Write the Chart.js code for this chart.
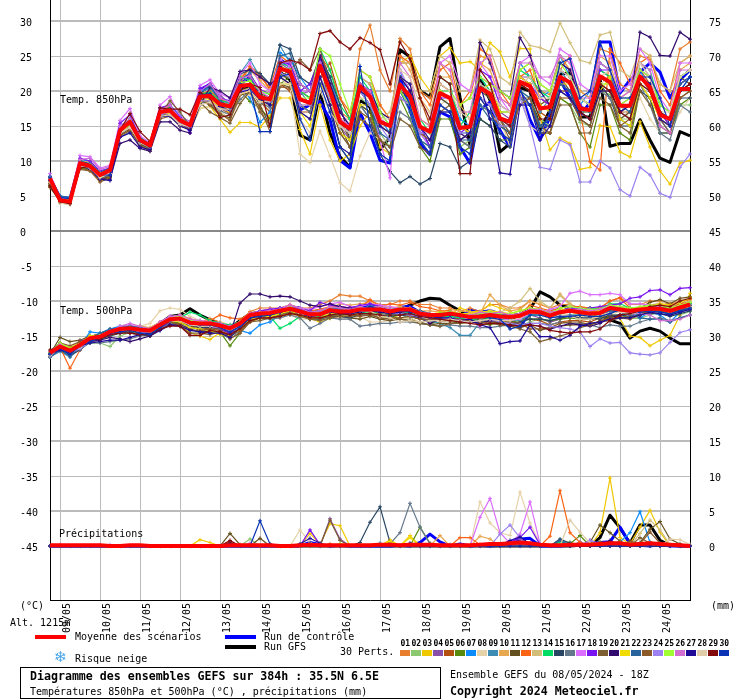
<!DOCTYPE html>
<html>
<head>
<meta charset="utf-8">
<script src="https://cdn.jsdelivr.net/npm/chart.js@4/dist/chart.umd.min.js"></script>
<style>
  html, body { margin: 0; padding: 0; background: #fff; }
  #wrap { position: relative; width: 740px; height: 700px; }
</style>
</head>
<body>
<div id="wrap"><canvas id="myChart" width="740" height="700"></canvas></div>
<script>
const days = ['09/05','10/05','11/05','12/05','13/05','14/05','15/05','16/05','17/05','18/05','19/05','20/05','21/05','22/05','23/05','24/05']
const leftTicks = [30,25,20,15,10,5,0,-5,-10,-15,-20,-25,-30,-35,-40,-45]
const rightTicks = [75,70,65,60,55,50,45,40,35,30,25,20,15,10,5,0]

const perts = ['01','02','03','04','05','06','07','08','09','10','11','12','13','14','15','16','17','18','19','20','21','22','23','24','25','26','27','28','29','30']
const pertColors = ['#e87f2e','#8cc870','#f0c800','#8a4fa8','#b4500f','#588a0e','#0a8cff','#e6d2a8','#3c8cb4','#e8a850','#64501e','#fa6414','#d2be78','#00dc64','#284664','#64788c','#dc6eff','#7814f0','#7d5f32','#320a6e','#f0dc00','#28649b','#8c5a28','#9b82f0','#a0ff32','#d26ed2','#1e0a96','#e0cca8','#820a0a','#0a32b4']

// 850hPa, every 6h
const meanT850 = [7.5,4.4,4.2,9.7,9.3, 8,8.7,14.4,15.6,13, 12.2,17,17.2,15.8,15.1, 19.2,19.3,18.1,17.8,20.7, 20.9,19.1,18.8,23.2,22.8, 18.8,18.3,23.6,20,15.6, 14.6,20.7,19.2,15.6,15, 20.9,19.2,14.9,14.2,19.7, 19,14.7,14.9,20.4,19.6, 16.1,15.6,21.3,20.7,17.5, 17.7,22,21.2,17.5,17.3, 22.1,21.3,17.9,17.9,22.1, 20.5,16.6,16,20.3,20.3]
const controlT850 = [7.6,4.8,4.6,9.9,9.5, 7.8,8.5,14.6,15.8,12.8, 12,17.2,17.6,15.6,14.8, 20,21,18.5,18.2,21,22,19,18.5, 24.5,23.5, 17.3,18,18.5,15.9,10.1, 9,16.9,14,10.1,9.7, 22,17.3,12.5,10.9,17, 16.3,12,9.7,17.3,18.4, 14.4,12,20.1,15.9,13, 16.3,21.6,19,16.6,18.3, 27,27,19.7,21.6,22.7, 24,22.7,19,21.6,23]
const gfsT850 = [7.4,4.5,4.3,9.6,9.1, 7.6,8.2,14.2,15.8,13.2, 12,17.1,17,15.4,14.9, 19.4,19.6,17.8,17.6,20.4, 20.6,19.4,19,22.7,21.6, 13.7,13,19.9,14,10.6, 9.1,18.7,17.7,11.6,13.4, 25.9,24.9,20.1,19.1,26.3, 27.5,19.1,12.3,21.8,18.7, 11.3,12.5,20.5,20,14.4, 17.3,22.4,22.6,16.3,16.3, 21.8,12.1,12.5,12.5,15.9, 13,10.4,9.8,14.2,13.6]
const t850P01 = [7,4,3.8,9.5,9, 7.5,8.5,14,15.5,13, 12.5,17,17,15.5,15, 19.5,20,18,18,21, 23.5,22.5,20,24,22, 19,18,24,22,17, 16,26,29.4,23,20, 27.5,26,20,19,24, 22,18,19,25,24.5, 20,19,24,22,20, 19.5,25,23,20,19, 26,25.5,21,20,25, 24.5,21,20,26,27]
const t850P02 = [7.5,4.5,4.2,9.5,9.5, 8.2,9,14.5,15,12.8, 12.2,17,17.5,16,15.5, 19,18.5,18,17.5,21, 21,19.5,19,22.5,22, 20,19,22,19,14, 12,19,18,14,12, 20,18,13,12,18, 17,12,13,18,17, 15,15,20,19,16, 15,19,18,15.5,15, 20,19.5,16,16,21, 19,14,14,18,18]
const t850P03 = [7.6,4.6,4.4,9,8.8, 7.2,7.6,14,15,12.5, 11.8,16.5,16.5,15,14.5, 17.5,17.8,16,14.1,15.5, 15.5,14.8,16.5,19,19, 14.5,11,18,13,10, 11,15,17,12,11, 24,25,22,20,25, 26.2,24,24.2,23,26.9, 25.6,22,26.1,26,16.3, 11.6,13.3,12.5,8.8,9.1, 15.1,14.9,11.3,10.6,15.6, 12,8.6,6.7,9.7,10.1]
const t850P04 = [7.2,4.2,4,9.8,9.2, 8,8.6,14.8,16,13, 12,17.4,17.5,16,14.8, 19.5,21,19.5,18,21, 22,18.5,18,24,23, 19.5,20,24,21,15, 13,21,20,15,14, 21,19,14,13,21, 20,15,15,22,21, 17,16,22,22,19, 18,24,23,19,18, 23,22,18,19,24, 22,18,17,22,23]
const t850P05 = [7,4.4,4.2,9.4,9, 7.7,8.3,14,15,12.6, 12,16.6,16.8,15.5,15, 18.5,18.5,17.5,16.8,19.5, 20.3,18.5,17,21,20, 17,17,22,24,19, 16,20,18,16,15, 24,24,19,15,21, 20,15,14,19,17, 15,14,22,21,17, 16,20,20,18,17, 24,23,17,17,23, 21,17,15,21,22]
const t850P06 = [6.5,4.2,4,9,8.6, 7.8,8,13.8,14.8,12.4, 11.6,16.5,17,16.4,15.6, 19,18,17,16,20, 18.5,17.5,16,21,22, 21,20,24,18,12, 10,18,17,13,12, 19,16,12,10,16, 16,11,12,16,15, 13,13,19,18,14, 14,19,18,14,12, 18,18,14,13,20, 19,14,14,18,19]
const t850P07 = [7.8,5,4.8,10.2,10, 8.4,9,15,16,13.4, 12.4,17.5,18,16.5,15.5, 20,20.5,19,18,20.5, 19,15.5,17,25.5,24.5, 22,20,25,22,17, 15,22,21,16,14, 23,18,15,12,20, 20,16,15,22,20, 16,14,24,22,19, 20,25,22,18,20, 24,23,17,18,23, 20,16,14,20,22]
const t850P08 = [6.8,4,3.8,9.4,9, 7.5,8,13.8,14.6,12.2, 11.6,16.4,16.6,15,14.6, 17.5,17.8,17,16,18.8, 19.5,17,19,22,20.5, 11,9.8,14.3,10.7,6.9, 5.7,10.7,14,13,13, 21,19,14,13,18, 19,15,14,18,16, 16,12,20,15,14, 15,19,19,17,17, 21,22,18,16,19, 16,14,14,17,19]
const t850P09 = [7.7,4.8,4.4,10,9.4, 8,8.8,14.8,16,13.2, 12.4,17.4,17.8,16,15.2, 19.8,20.4,18.6,18.4,22.5, 24.5,22,21,26.5,24, 20,18,25,22,16, 14,20,18,13,12, 20,18,14,12,19, 18,14,14,21,20, 16,15,21,20,17, 19,23,21,17,16, 21,20,17,16,21, 20,16,15,21,22]
const t850P10 = [7.4,4.4,4,10,9.8, 8.2,9,14.8,15.4,13, 12.4,17,17.4,15.8,15, 19,19.8,18.6,18,22, 23,21.5,20,23,22.5, 18,18,23,21,16, 15,22,21,18,16, 25,23,19,17,22, 22,18,16,24,23, 19,18,23,24,21, 20,25,23,20,19, 25,24,19,20,23, 22,17,16,23,24]
const t850P11 = [6.6,4.3,4,9.2,8.8, 7.4,7.8,13.6,14.6,12.4, 11.8,16.4,16.6,15.5,15, 18.6,18,16.5,16.2,20, 20.5,18,15,21,20.5, 18,17,23,20,15, 12,18,17,15,14, 20,19,15,12,19, 18,13,12,20,19, 15,14,21,20,18, 19,22,20,17,16, 22,21,16,17,22, 21,16,15,22,21]
const t850P12 = [7.5,4.6,4.2,9.8,9.4, 8.2,8.8,14.6,15.4,13.2, 12.6,17.4,17.8,16.2,15.4, 19.6,20,18.8,18.4,21.5, 23.5,22,20.5,25,24, 20,19,25,23,19, 17,23,22,18,16, 25,24,20,18,23, 24,18,20,26,25, 20,18,22,23,19, 18,23,25,17,9.9, 8.7,26,24,21,24, 25,20,18,24,25]
const t850P13 = [7.2,4.4,4.4,9.4,9, 7.8,8.4,14.2,15,12.8, 12.4,16.8,17,15.6,14.8, 18.8,19,17.8,17.4,20, 20.4,18.6,17.8,22,22, 17,16,21,19,16, 16,20,19,16,17, 24,24,20,20,25, 24,20,20,27.3,26, 22,21,28.4,26.5,26.2, 25.6,29.7,26.9,24.4,24, 28,28.4,23,22,26, 25,21,20,24,25]
const t850P14 = [7.6,4.6,4.4,10,9.4, 8,8.8,14.6,16,13.4, 12.4,17.2,17.6,16,15.6, 19.6,19.8,18.6,18.4,22, 21.5,20,19.5,24,23.5, 20,19,26,23,18, 16,22,20,17,15, 23,20,16,14,22, 21,15,17,22,20, 17,17,23,22,20, 19,23,22,19,18, 23,22,19,19,24, 23,18,17,22,23]
const t850P15 = [7.3,4.5,4.2,9.6,9.2, 7.6,8,14,15.2,13, 12.2,16.8,17,15.8,14.8, 19,19.6,17.6,18,22.4, 23,22.5,21,26.6,26, 22,21,25,22,18, 13,18,16,11,8.5, 6.9,7.8,6.7,7.5,12.5, 12,9,10,16,15, 13,12,19,18,15, 15,21,20,16,15, 21,19,15,15,20, 19,14,14,19,19]
const t850P16 = [7.2,4.2,4,9.2,8.8, 7.6,8.2,13.4,14.2,12.6, 11.8,16.2,16.8,15.2,14.6, 18.4,18.2,17.2,16.6,18.8, 20,18.4,17.6,22,21, 18,17,24,21,14, 12,18,16,13,11, 17,16,13,11,17, 17,13,12,18,17, 14,13,19,18,15, 15,20,19,17,16, 20,19,16,15,21, 18,14,13,18,17]
const t850P17 = [8.2,4.8,4.6,10.8,10.6, 9,9.4,15.8,17.5,13.6, 12.6,18,19.2,16.4,15.6, 20.8,21.6,19.6,19,22.4, 24,21,20,24.5,23.5, 20,20,25,21,16, 15,21,20,13,7.6, 23,20,14,12,24, 25,21,20,24,22, 19,17,24,25,22, 21,26,25,21,20, 25,25,20,21,26, 24,19,17,24,24]
const t850P18 = [7.8,4.7,4.3,10.4,10, 8.6,9,15.4,16.6,13.2, 12.4,17.6,18,16.2,14, 20.4,21,19,18.6,21.6, 22.4,20.2,19.6,24,24, 20,21,24.5,21,17, 15,21,20,16,15, 22,20,15,12,19, 19,14,15,23,22, 18,17,22,21,19, 18,23,22,18,17, 23,23,18,18,23, 22,17,15,21,22]
const t850P19 = [6.8,4.3,3.9,9.2,8.8, 7.2,7.8,13.8,14.4,12.2, 11.4,16.6,18.6,17,15, 18.4,17,16.2,15.4,18.2, 20,17,15,22,23, 24.5,23,26,21,16, 13,16,15,13,11, 16,15,12,11,17, 18,13,14,21,19, 16,13,19,19,15, 14,18,18,14,14, 19,18,15,14,20, 18,15,14,19,20]
const t850P20 = [7.2,4.2,3.9,9.4,8.8, 7.4,7.4,12.5,13,11.8, 11.4,15.6,15.6,14.4,14, 18,20.5,20,19,22.8, 23,22,21,22,21, 21,20,25,21,17, 15,21,20,17,16, 22,20,15,14,20, 19,14,13,26.9,24, 20,19,27.6,25.1,20, 18,24,23,19,18, 22,21,17,18,28.4, 27.7,25.1,25,28.4,27.4]
const t850P21 = [7.4,4.6,4.2,9.4,9.2, 7.8,8.6,14,15.2,13, 12,16.8,16.8,15.4,14.8, 18.4,18.8,17.6,17,19.6, 20,18.6,18.2,21,21, 17,15,21,19,14, 13,18,18,15,14, 22,21,16,15,20, 19,15,14,20,21, 17,17,22,21,18, 17,21,21,17,17, 20,22,16,15,21, 19,16,15,20,21]
const t850P22 = [7.8,5,4.8,10,9.6, 8.4,9,14.6,15.6,13.2, 12.4,17.2,17.4,16,15.2, 19.6,20.8,18.6,17.8,21.6, 22.6,19.6,18,25,25.4, 21,20,24,20,16, 14,20,18,14,13, 20,17,13,12,18, 17,13,13,18,16, 15,14,20,19,15, 16,21,20,17,17, 22,21,18,17,22, 21,17,16,21,22]
const t850P23 = [6.2,4.4,3.9,8.8,8.6, 7,7.6,13.6,14.4,12.2, 11.6,16,16.4,15,14.6, 18.8,18,16.8,15.8,19.4, 19.8,17.6,14.2,20.6,20.4, 19,18,22,18,14, 12,17,16,13,12, 19,18,14,13,18, 17,13,14,19,18, 16,14,18,19,14, 14,19,19,16,15, 20,20,15,16,22, 20,16,14,19,20]
const t850P24 = [7.4,4.6,4.4,9.6,9.2, 8,8.6,14,14.8,12.8, 12.2,16.6,17,15.4,14.8, 18.6,18.6,17.4,17.2,20, 20.2,19,18.4,22.6,22, 18,18,22,19,15, 14,20,18,15,13, 19,18,14,14,18, 17,14,14,19,18, 15,15,19,15,9.1, 8.8,13,12.3,7,7, 10,9,5.9,5,9.1, 8,5.4,4.8,9.1,11]
const t850P25 = [7.6,4.6,4.4,9.8,9.4, 8.2,8.8,14.4,15.8,13, 12.2,17.2,17.2,15.8,15, 19.2,19.4,18.2,18,21.2, 21.4,20,19.6,23.5,23, 19,19,26,25,21, 17,23,22,17,15, 20,18,15,14,20, 20,18,19,22,21, 20,19,23,24,21, 20,24,22,19,18, 21,21,18,19,23, 22,18,17,22,23]
const t850P26 = [7.6,4.4,4,10.2,10.4, 8.8,9.2,15,16,13, 12.2,17.2,18,16,15.4, 20,21,19,18.4,21.8, 22.2,20,19,24,24.2, 21,20,24,20,16, 15,21,20,16,15, 24,22,16,15,24, 23,17,17,24,25, 19,18,24,24,22, 22,25,24,19,19, 24,23,19,20,24, 23,15,14,23,23]
const t850P27 = [7.2,4.6,4.2,9.6,9, 7.4,7.2,13.4,14,12, 11.6,16.4,16.4,15,14.4, 19,19.4,17.8,17.2,19.8, 20.2,18.8,18,23.5,22.4, 17,16,22,18,12, 11,20,19,15,14, 22,21,15,13,17, 17,13,14,21,16, 8.3,8.1,18,18,13, 15,20,19,17,16, 20,20,17,18,22, 21,16,15,20,21]
const t850P28 = [7,4,3.8,9.2,9, 7.6,8.2,14,14.8,12.6, 12,16.4,16.6,15.2,15, 18,18.4,17.4,17.4,19.6, 20,18.4,18.6,21,21, 16,14,20,17,15, 14,19,19,16,16, 23,22,18,17,21, 20,17,16,21,20, 18,17,21,22,19, 19,23,22,19,18, 22,23,19,19,24, 22,17,17,22,23]
const t850P29 = [6.4,4.2,3.9,9,9.2, 8,8.8,14.4,16.8,14.2, 12.8,17.6,17.4,17.4,16.6, 19.8,19,16.2,16.6,20, 21,20.5,15,24,24.4, 24,23,28.2,28.6,27, 26,27.6,26.9,25.9,21, 27,24.6,19,16,22, 21,8.2,8.2,23,21, 16,15,21,20,16, 16,22,21,17,16, 21,20,17,16,21, 20,17,16,20,21]
const t850P30 = [7.6,4.8,4.6,9.6,9.2, 8,8,14.2,15.4,12.8, 12,17,17.2,15.8,15, 19.4,19.6,18.2,17.6,21, 20.6,14.2,14.2,22,22.5, 16,13,21,17,12, 10,23.5,15,11,10, 21,18,13,11,18, 17,12,11,19,17, 14,13,20,18,14, 17,24,24.6,19,20, 27,23,19,19,22, 22,19,15,20,22]

// 500hPa
const meanT500 = [-17.4,-16.5,-17.1,-16.3,-15.3, -15.1,-14.4,-14,-13.9,-14.1, -14.2,-13.4,-12.6,-12.5,-13.1, -13.2,-13.2,-13.5,-13.9,-13.2, -12,-11.8,-11.7,-11.4,-11.1, -11.5,-11.9,-11.9,-11.3,-11.5, -11.5,-11.2,-11.2,-11.2,-11.5, -11.2,-11.2,-11.8,-12,-12, -11.8,-12,-12.3,-12.2,-12, -12.2,-12.3,-12.1,-11.5,-11.6, -12.1,-11.6,-11.4,-11.6,-11.8, -11.7,-11,-11.2,-11.4,-11.2, -11.1,-11.1,-11.4,-10.9,-10.5]
const controlT500 = [-17.5,-16.8,-17.6,-16.2,-15.6, -15,-14.8,-14,-14.2,-14.4, -14.4,-13.6,-12.4,-12.6,-13.4, -13.4,-13.6,-13.8,-14.4,-13.4, -12.2,-12,-11.6,-11.2,-10.8, -11,-11.6,-11.4,-11.2,-11.4, -11.8,-11,-10.6,-11,-11.4, -10.9,-10.8,-11.6,-12.2,-12.2, -12,-12.4,-11.2,-11.6,-11.4, -11.8,-12.4,-13.8,-11.4,-11.4, -12.2,-11.8,-10.8,-11,-11.4, -12,-11.6,-11,-11.8,-11.6, -11,-11.2,-11.8,-11.4,-11]
const gfsT500 = [-17.2,-16.4,-17,-16.2,-15.2, -14.8,-14.2,-13.8,-13.6,-14, -14,-13.2,-12.2,-12,-11.1, -12,-12.7,-13.2,-13.8,-12.8, -11.8,-11.6,-11.8,-11.2,-11, -11.4,-11.6,-11.6,-11.4,-11.2, -11.2,-10.8,-11,-11,-11.4, -11.2,-10.6,-10,-9.6,-9.7, -10.6,-11.4,-12,-12.2,-12.6, -12.4,-12.6,-12,-11.2,-8.7, -9.4,-10.6,-11,-11.4,-11.8, -12,-12.7,-13.2,-15.3,-14.3, -13.9,-14.3,-15.3,-16.1,-16.1]
const t500P01 = [-17.5,-16.5,-17.5,-16,-15, -15,-14,-14,-14,-14.5, -14.5,-13.5,-12.5,-12,-12.5, -13,-12.5,-13,-13.5,-13, -11.5,-11,-11,-11,-10.5, -11,-11,-10.5,-10,-9.1, -9.3,-9.3,-10,-10.5,-10.5, -10,-10,-10.5,-10.5,-11, -11,-11.5,-11,-11.5,-10.5, -10.5,-11,-11,-10,-10.5, -11,-10.5,-10.5,-11,-11, -11,-10,-9.5,-10.5,-10.5, -10,-10,-10.5,-10,-9.5]
const t500P02 = [-18,-16.8,-17,-16.4,-16, -16,-16.5,-15,-14.5,-14.5, -14,-13.5,-13,-13,-13.5, -13.5,-14,-14,-14.5,-13.5, -12.5,-12,-12,-12,-11.5, -12,-12.5,-12.5,-12,-12, -12,-12,-11.5,-12,-12.5, -12.5,-12,-12.5,-13,-12.5, -12.5,-13,-13,-13,-12.5, -13,-13,-13.5,-13,-12.5, -13,-12.5,-12,-12,-12.5, -12.5,-12,-12,-12.5,-12.5, -12,-11.5,-12,-12,-11.5]
const t500P03 = [-17.5,-16.5,-17,-16.5,-15.5, -15,-14.5,-14,-14.5,-14.5, -14.5,-14,-13,-13.5,-14.5, -15,-15.5,-14.5,-14.5,-14, -13,-12.5,-12,-12,-12, -12,-12.5,-13,-12.5,-12, -12.5,-11.5,-12,-12,-12.5, -12,-11.5,-12.5,-13,-12.5, -12,-11,-11.5,-11.5,-10.5, -11,-11.5,-12,-11.5,-11.5, -12,-11.5,-11.5,-12,-12, -12,-12,-12.5,-15,-15.2, -16.4,-15.6,-14.9,-12,-8.9]
const t500P04 = [-17.5,-16.6,-17.4,-16.4,-15.5, -15,-14.5,-14,-14,-13.5, -14,-13,-12.2,-12.4,-13.5, -13.8,-13.4,-13.6,-14.5,-13.6, -12.2,-11.8,-11.4,-11,-11, -11.4,-12,-12.2,-11,-11.2, -11.4,-11,-11,-11.2,-11.4, -11.4,-11.6,-12,-12.4,-12.2, -12,-12.2,-12.6,-12.4,-12.4, -12.6,-12.8,-12.6,-12,-12.4, -13,-12.6,-12,-12.4,-12.6, -12.4,-11.6,-11.6,-12,-11.6, -10.8,-11,-11.6,-10.8,-10.4]
const t500P05 = [-17.8,-17,-17.4,-16.6,-15.4, -15.2,-14.6,-14.4,-14.2,-14.6, -15,-13.8,-13,-13,-13.6, -13.8,-14,-14.2,-14.4,-13.6, -12.4,-12.2,-12,-11.4,-11.2, -11.8,-12,-12.4,-12,-11.4, -11.4,-11.2,-11.6,-11.8,-11.6, -11,-11.4,-12,-12.2,-12.4, -12.6,-12.4,-12.8,-12.6,-12.2, -12,-12.8,-12.6,-12.6,-12.8, -13.4,-13,-12.8,-12.8,-13, -12.4,-12,-12.2,-11.8,-11.4, -10.6,-10.8,-11,-10.4,-10.2]
const t500P06 = [-17.2,-16,-16.8,-16,-15.6, -15.4,-14.8,-14.4,-14.2,-14.4, -14.2,-13.8,-13.2,-13,-13.8, -14,-14.2,-14.4,-16.4,-14.6, -12.8,-12.2,-12,-11.8,-11.4, -12,-12.4,-12.2,-11.6,-12, -11.8,-11.6,-11.2,-11.6,-12, -12.6,-12.4,-13.2,-13.4,-12.6, -12.8,-13.2,-13,-13.2,-13.4, -13,-13,-12.8,-12.6,-12.6, -12.8,-12.6,-12.4,-12.6,-12.6, -12.4,-12.2,-12,-12.4,-11.8, -11.4,-11.2,-11.8,-11.4,-11]
const t500P07 = [-18,-17,-18,-16.4,-14.4, -14.6,-14,-13.6,-13.6,-14.2, -14.4,-13.4,-12.4,-12.6,-13.4, -13.4,-13,-13.4,-14,-14.2, -14.6,-13.4,-13,-12,-11.4, -11,-11.4,-11.6,-10.8,-11, -11.2,-10.8,-11.2,-11,-11.2, -11,-11.4,-11.4,-11.8,-12, -12,-12.2,-12.4,-12.6,-11.8, -11.8,-12.2,-11.8,-11.6,-11.4, -11.4,-11,-10.8,-11,-11.4, -11.2,-10.8,-10.8,-11,-12.4, -11.6,-12,-13,-11.6,-11]
const t500P08 = [-17.6,-16.8,-17.2,-16.6,-15.8, -15.4,-14.8,-13.8,-13.4,-13.6, -13.2,-11.4,-11,-11.2,-12.2, -12.8,-13,-13,-13.4,-13, -12,-12,-12.2,-12.4,-12, -12.6,-12.6,-12.8,-12.2,-12.4, -12.6,-12.2,-13,-13,-12.8, -12.6,-12.4,-13,-12.8,-13, -12.8,-13,-13.2,-12.6,-12.8, -12.8,-12.6,-12,-11.2,-11.8, -12.2,-11.8,-12,-12.2,-12.4, -12,-11.6,-11.6,-12,-11.2, -10.6,-10.2,-10.2,-9.8,-9.6]
const t500P09 = [-18,-17.2,-18,-16.8,-15.6, -15,-14.4,-14.2,-14,-14.2, -14.6,-13.8,-12.6,-12.4,-13, -13.2,-13.4,-13.8,-14.2,-13.6, -12.4,-12,-11.6,-11.4,-11, -11.2,-11.6,-11.2,-11,-11.2, -11.4,-11.4,-10.6,-11,-11.8, -11.6,-11.6,-12.4,-12.8,-13.2, -13.8,-14.9,-14.9,-13,-12.8, -12.4,-12.6,-12.8,-12,-12, -12.4,-12.2,-12,-12,-12, -11.8,-11.4,-11.4,-11.8,-11.4, -11.2,-11.4,-12,-11.4,-11]
const t500P10 = [-17.4,-16.4,-17,-16.2,-15.6, -15.2,-14.6,-14.2,-14,-13.6, -13.8,-13,-12.4,-12.2,-12.8, -13,-13,-13.2,-13.6,-13, -12,-11.4,-11.2,-11.2,-10.8, -11.2,-11.8,-11.6,-11,-10.4, -10.6,-10.4,-10.2,-10.8,-11, -10.8,-11,-11.4,-11.4,-11.6, -11.2,-11.4,-11.6,-11.8,-9.1, -10.6,-11.4,-11.2,-10,-10.4, -11,-9,-10.4,-11.2,-11.2, -11.4,-10.6,-10.8,-11,-11, -10.8,-10.6,-11,-10.6,-10]
const t500P11 = [-17.6,-15.2,-15.8,-15.6,-15, -14.8,-14.4,-14.2,-14.6,-14.8, -14.8,-14,-13.2,-13.2,-13.6, -14.2,-14.4,-14.4,-15,-14.2, -12.6,-12.2,-12.2,-12,-11.6, -12,-12.6,-12.4,-12,-12.2, -12.4,-12.6,-12.2,-12.6,-12.8, -12.6,-12.8,-13,-13.4,-13.2, -13.2,-13,-12.8,-12.6,-13, -13.2,-13.6,-13.8,-13.4,-14.2, -13.8,-13.6,-13.4,-13.4,-13.2, -13,-12.2,-12,-11.6,-11, -10.2,-9.8,-10.4,-9.6,-9.4]
const t500P12 = [-18,-16.6,-19.6,-17,-15.6, -15,-14.6,-14,-13.8,-14, -14.4,-13.2,-12.6,-12.4,-13, -13,-12.8,-12,-12.4,-12.6, -11.8,-11.4,-11.4,-11,-10.8, -11.2,-11.4,-11.2,-10.8,-10.8, -11,-11,-9.8,-10.8,-10.4, -10.6,-10.2,-10.8,-11,-11.4, -11.4,-12,-12.2,-12,-11.8, -12,-12.2,-11.8,-10.6,-11, -11.4,-11,-10.8,-10.8,-11, -11,-10,-9.6,-11,-11, -10.6,-10.4,-10.6,-10.4,-9.8]
const t500P13 = [-17.6,-16.6,-17.2,-16.6,-15.8, -15.6,-15,-14.6,-14.4,-14.2, -14,-13.6,-13,-12.8,-13.2, -13.6,-13.8,-13.8,-14.2,-13.6, -12.4,-12.2,-12.2,-12,-11.8, -12.2,-12.4,-12.2,-11.6,-11.4, -11.2,-11,-11.2,-10.6,-11, -11,-11.4,-12,-12,-12.2, -12,-12.4,-12.4,-11.8,-11.4, -11.6,-11,-10,-8.2,-10, -11,-9.2,-10.6,-11.4,-11.6, -11.8,-11.4,-11.6,-11.8,-11.2, -10.8,-10.6,-10.8,-10.2,-10]
const t500P14 = [-17.2,-16.2,-16.8,-16,-15.2, -15,-14.4,-14,-13.8,-14.2, -14.2,-13.4,-12.4,-12.4,-11.6, -12,-12.8,-13.2,-13.4,-13, -12.2,-12,-12.2,-13.9,-13.2, -12.2,-12.4,-12.2,-12,-12, -11.8,-11.6,-11.8,-11.6,-12, -11.8,-11.6,-12,-12.2,-12.4, -12.2,-12.4,-12.6,-12.8,-12.4, -12.6,-12.8,-12.6,-12,-12, -12.4,-11.8,-11.4,-11.2,-11, -11.2,-10.4,-10.4,-11,-11, -10.8,-10.8,-11.2,-10.8,-10.4]
const t500P15 = [-17.8,-17,-17.8,-17,-15.8, -15.4,-15,-14.6,-14.4,-14.8, -15,-14,-13,-12.8,-13.4, -13.8,-13.8,-14,-14.6,-14, -12.8,-12.4,-12,-11.8,-11.6, -12,-12.6,-12.6,-12.2,-12.2, -12.4,-12,-12,-12,-12.2, -12,-12.2,-12.6,-12.8,-12.6, -12.4,-12.8,-13,-13,-13, -13.2,-13.4,-13,-12.6,-12.6, -12.8,-12.4,-12.2,-12.4,-12.4, -12.6,-12,-12,-12.2,-12, -11.8,-11.8,-12.2,-11.8,-11.4]
const t500P16 = [-18,-17,-17.6,-16.8,-16, -16,-15.8,-15.6,-15.4,-15, -14.6,-14,-13.2,-13.4,-13.8, -14,-14.2,-14.6,-15.4,-14.4, -12.8,-12.4,-12.6,-12.4,-12, -12.4,-13.9,-13.2,-12.4,-12.6, -12.6,-13.6,-13.4,-13.2,-13.2, -13,-13,-13.2,-13.4,-13.6, -13.4,-13.6,-13.6,-13.8,-13.8, -13.6,-13.4,-13.6,-13.2,-13.2, -13.4,-13,-13.2,-13.2,-13.4, -13.8,-13.4,-13.6,-13.6,-13, -12.6,-12.4,-12.8,-12.4,-12]
const t500P17 = [-17.4,-16.4,-17,-16.2,-15.2, -15,-14.2,-13.8,-13.4,-13.8, -14,-13.2,-12.2,-12.2,-12.8, -12.8,-13,-13.4,-13.6,-13, -11.8,-11.4,-11.2,-11,-10.6, -11,-11.2,-10.8,-10.4,-10.2, -10.8,-10.8,-10.4,-10.6,-10.8, -11,-11.2,-11.6,-11.8,-12, -12,-12.2,-12.6,-13.6,-12.8, -12.4,-12.8,-12.6,-11.8,-11.6, -11.2,-10.8,-8.9,-8.6,-9.1, -9.1,-8.9,-9.1,-10.4,-10.4, -10.6,-10.8,-11.4,-11,-11]
const t500P18 = [-17.6,-16.8,-17.2,-15.8,-15.2, -15,-14.2,-14,-14,-14.4, -14.6,-13.8,-13,-12.8,-13.4, -13.4,-13.6,-14,-14.6,-13.4, -12,-11.4,-11.2,-11,-10.8, -11.2,-11.4,-10.2,-10.6,-10.8, -11,-10.6,-10.4,-10.8,-11.2, -11.4,-11.2,-11.8,-12,-12, -11.8,-12,-12,-11.8,-11.6, -11.8,-12,-11.8,-11.4,-11.6, -12,-11.4,-11,-11.2,-11, -10.8,-10.6,-10.4,-9.6,-9.4, -8.5,-8.4,-9.1,-8.2,-8.1]
const t500P19 = [-17.8,-17,-17.8,-16.6,-15.6, -15,-14.8,-14.4,-14.2,-14.4, -14.4,-14,-13.4,-13.6,-14.6, -14.6,-14.8,-14.4,-15,-14.2, -13,-12.8,-12.4,-12,-11.6, -12.2,-12.6,-12.8,-12.4,-12.2, -12.2,-12,-12,-12.4,-12.6, -12.6,-12.8,-13.2,-13.4,-13.6, -13.2,-13.2,-13,-13,-13.2, -13.4,-13.6,-14,-14.4,-15.8, -15.4,-15,-14.6,-13.8,-13.4, -13,-12.8,-12.4,-12.2,-12, -11.6,-11.4,-11.6,-11.4,-11]
const t500P20 = [-17.4,-16.4,-16.8,-16,-15.8, -15.6,-15.2,-15.4,-15.8,-15.4, -15,-14.2,-13.4,-13.4,-14, -14.4,-14.4,-14.4,-14.8,-10.3, -9,-9,-9.4,-9.3,-9.4, -10,-10.6,-10.8,-10.4,-10.8, -11,-11.6,-11,-11.2,-11.6, -11.6,-12,-12.4,-13.2,-12.6, -12.4,-12.8,-13,-13.2,-12.8, -13,-13.6,-13.2,-13.4,-13.6, -14,-13.6,-13.2,-13.4,-13.6, -13.2,-12.4,-12,-11.6,-11.4, -11,-11,-11.2,-11,-10.6]
const t500P21 = [-17.2,-16.2,-16.6,-16,-15, -14.8,-14.4,-14,-14,-14.2, -14.4,-13.6,-12.8,-13,-13.8, -14,-14.2,-14.8,-15,-14, -12.6,-12.4,-12.2,-11.8,-11.4, -12,-12.4,-12.4,-11.8,-11.8, -11.8,-11.2,-11.2,-11.6,-11.8, -11.6,-11.4,-11.8,-12,-11.6, -11.6,-11.8,-11.8,-11.6,-11.4, -11.6,-11.8,-11.4,-11,-11.2, -11.6,-11.2,-11.2,-11.4,-11.6, -11.4,-11,-11,-11.2,-11, -10.8,-10.4,-10.6,-10.2,-9.6]
const t500P22 = [-18,-17,-17.8,-16.6,-15.4, -14.6,-14,-13.8,-13.6,-13.8, -14,-13.2,-12.6,-12.6,-13.4, -13.2,-13,-13.2,-13.6,-13, -12,-12,-11.8,-11.6,-11.2, -11.6,-11.8,-11.8,-11.2,-11.4, -11.4,-11.4,-11.4,-11.2,-11.6, -11.4,-11.2,-11.4,-11.8,-11.8, -11.6,-12,-12.2,-12,-11.8, -12,-12,-11.8,-11.2,-11.4, -11.8,-11.4,-11.4,-11.6,-11.8, -11.8,-11.4,-11.6,-12,-12.4, -12.6,-12.6,-13,-12.4,-12]
const t500P23 = [-17.6,-16,-16.4,-15.8,-15.4, -15,-14.8,-14.4,-14.2,-14.2, -14,-13.6,-13,-13.4,-14.2, -14.2,-14,-14,-15.4,-14.6, -13,-12.4,-12.4,-12.2,-11.8, -11.8,-12.2,-12.4,-12.2,-12, -12,-12.2,-12,-12.4,-12.4, -12.4,-12.2,-12.6,-12.6,-12.8, -12.8,-12.6,-12.8,-13,-13.2, -12.8,-13,-13.2,-14,-14, -13.8,-13.2,-13,-13,-13.4, -12.8,-12.4,-12.4,-12.6,-12, -11.4,-11.2,-11.6,-11.2,-10.8]
const t500P24 = [-17.8,-16.8,-17.4,-16.8,-15.8, -15.2,-14.8,-14,-14,-14.4, -14.4,-13.4,-12.4,-12.6,-13.2, -13.4,-13.2,-13.6,-14,-13.4, -12.2,-12,-11.6,-11.6,-11.2, -11.6,-12.2,-12,-11.4,-11.6, -11.8,-11.4,-11.2,-11.6,-11.8, -11.8,-12,-12.2,-12.4,-12.6, -12.4,-12.8,-13,-12.8,-12.6, -13,-13.2,-13.4,-13.2,-13.2, -13.6,-13.8,-14,-14.4,-16.5, -15.4,-16,-15.9,-17.4,-17.6, -17.7,-17.4,-15.9,-14.5,-14.1]
const t500P25 = [-17.4,-16,-16.8,-16.2,-15.2, -15,-14.4,-13.8,-13.8,-14.2, -14.2,-13.2,-12.4,-12.2,-12.8, -13,-13,-13.4,-13.8,-13, -12,-11.6,-11.6,-11.2,-10.8, -11.4,-11.8,-12,-11.4,-11.6, -11.6,-11,-11.4,-11,-11.4, -11,-11.2,-11.8,-11.8,-11.8, -11.6,-11.8,-12,-11.8,-11.6, -11.8,-11.8,-11.4,-11,-11.2, -11.8,-11,-10.8,-11,-11.2, -11.2,-10.6,-10.8,-11,-10.8, -10.6,-10.6,-11,-10.6,-10.2]
const t500P26 = [-17.2,-16.2,-17,-16.4,-15.4, -15.2,-14.4,-13.6,-13.2,-13.6, -14,-13,-12.2,-12,-12.6, -12.8,-13,-13.2,-13.6,-13.2, -12,-11.6,-11.4,-11.2,-10.6, -11,-11.6,-11.4,-10.8,-11, -11.2,-11,-11,-10.8,-11.2, -11.2,-11.4,-11.6,-11.8,-12, -11.8,-12,-12,-11.6,-11.8, -11.6,-12,-11.8,-11.2,-11.2, -11.6,-11.4,-11.2,-11.2,-11.4, -11.2,-10.8,-11.2,-11.6,-11.8, -12,-12.8,-12.8,-12.6,-12]
const t500P27 = [-17.6,-17,-17.4,-16.4,-16, -15.8,-15.6,-15.6,-15.2,-14.8, -14.6,-14.2,-13.4,-13.6,-14.2, -14.4,-14.6,-14.6,-15.2,-13.8, -12.4,-12,-11.8,-11.6,-11.2, -11.8,-12.2,-12,-11.6,-11.8, -11.8,-11.6,-11.4,-11.6,-11.8, -11.6,-11.4,-12,-12.2,-12.4, -12.4,-12.8,-12.6,-13.4,-13.8, -16.1,-15.8,-15.7,-13.4,-15.1, -15.1,-15.6,-14.9,-13.6,-13.2, -13,-12.6,-12.4,-12.4,-12, -11.6,-11.8,-12,-11.6,-11.2]
const t500P28 = [-17.8,-16.6,-17.2,-16.6,-15.4, -15,-14.6,-14.2,-14,-14.2, -14.4,-13.4,-12.8,-12.8,-13.4, -13.6,-13.6,-13.8,-14.2,-13.6, -12.2,-11.8,-11.8,-11.4,-11.2, -11.8,-12,-12,-11.4,-11.6, -11.6,-11.4,-11.4,-12.2,-12.4, -13,-12.8,-13,-12.8,-12.8, -12.6,-12.8,-13,-12.8,-12.6, -12.8,-12.8,-12.4,-11.6,-12, -12.4,-12,-12.2,-12.6,-12.6, -12.2,-11.8,-11.6,-11.8,-11.6, -11.2,-11.2,-11.6,-11,-10.8]
const t500P29 = [-17,-16.6,-17,-16.2,-15.6, -15.4,-14.8,-14.6,-14.6,-14.8, -14.8,-14,-13.6,-13.6,-14.9, -14.9,-14.2,-14.4,-14.8,-14, -12.8,-12.4,-12.4,-12.2,-11.8, -12,-12.4,-12.4,-12,-11.8, -12,-11.8,-11.8,-12,-12, -12,-11.8,-12.2,-12.4,-12.6, -12.8,-13,-13.2,-13.4,-13.2, -13.2,-13.4,-13.6,-13.4,-13.6, -14.2,-14.4,-14.6,-14.4,-14.4, -14,-12.8,-12,-11.8,-11.4, -10.8,-10.6,-10.8,-10,-9.6]
const t500P30 = [-17.6,-16.8,-17.6,-16.4,-15.8, -15.2,-14.6,-14.4,-14.2,-14.6, -14.8,-13.8,-12.8,-12.6,-13.2, -13.4,-13.4,-13.8,-14.4,-13.6, -12.4,-12.2,-12,-11.6,-11.2, -11.4,-11.8,-11.8,-11.4,-11.4, -11.6,-11.4,-10.8,-11.2,-11.6, -11.4,-11.6,-11.8,-12.2,-12.2, -12,-12.2,-12.4,-12.2,-12.4, -12.6,-14,-13.6,-12,-12, -12.4,-12.2,-12.2,-12,-12.2, -12.2,-11.8,-11.2,-11.4,-11.6, -11.4,-11.6,-11.8,-11.4,-11]

// precip in mm (right axis)
const meanRain = [0.1,0.1,0.1,0.1,0.1, 0.1,0,0,0.1,0.1, 0,0,0,0,0, 0,0,0,0.1,0.1, 0.1,0.1,0.1,0,0, 0.1,0.2,0.1,0.1,0.1, 0.1,0.1,0.1,0.2,0.2, 0.1,0.2,0.2,0.2,0.1, 0.1,0.1,0.1,0.2,0.3, 0.3,0.4,0.5,0.4,0.2, 0.1,0.1,0.2,0.2,0.2, 0.3,0.4,0.4,0.2,0.3, 0.4,0.3,0.2,0.1,0]
const controlRain = [0,0,0,0,0, 0,0,0,0,0, 0,0,0,0,0, 0,0,0,0,0, 0,0,0,0,0, 0,0.5,0.2,0,0.1, 0,0,0,0,0, 0.1,0,0.5,1.7,0.6, 0,0.3,0,0.1,0, 0.1,0.6,1,1.1,0, 0,0,0.1,0.2,0.2, 0.5,0.6,2.7,0.3,0.1, 0,0.2,0,0,0]
const gfsRain = [0,0,0,0,0, 0,0,0,0,0, 0,0,0,0,0, 0,0,0,0,0, 0,0,0,0,0, 0,0,0,0,0, 0,0,0,0,0, 0,0,0,0,0, 0,0,0,0,0, 0,0,0,0,0, 0,0,0,0.1,0.1, 1.2,4.4,2.6,0.4,3, 3,0.8,0.1,0,0]
const rainP01 = [0,0,0,0,0, 0,0,0,0,0, 0,0,0,0,0, 0,0,0,0,0, 0,0,0,0,0, 0,0,0,0.3,0, 0,0,0,0,0, 0,0,0,0,0, 0,0,0,0,0, 0,0,0,0,0, 0,0.5,0.3,0,0, 0,0,0,0,0, 0.6,0.2,0,0,0]
const rainP02 = [0,0,0,0,0, 0,0,0,0,0, 0,0,0,0,0, 0,0,0,0,0, 1,0,0,0,0, 0,0,0,0,0, 0,0,0,0,0, 0,0,0,0.3,0, 0,0,0,0,0, 0,0,0,0,0, 0,0.4,0.6,0,0, 0,0,0,0,0, 0,0,0,0,0]
const rainP03 = [0,0,0,0,0, 0,0,0,0,0, 0,0,0,0,0, 0.9,0.5,0,0,0, 0,0,0,0,0, 0,1.8,0.3,3.2,2.9, 0,0,0,0,0.9, 0,1.5,0,0,0, 0,0,0,0,0, 0,0,0,0,0, 0,0,0,0,0, 1.9,9.7,1.2,0.3,2.7, 5.1,2,0,0,0]
const rainP04 = [0,0,0,0,0, 0,0,0,0,0, 0,0,0,0,0, 0,0,0,0,0, 0,0,0,0,0, 0,0,0,3.9,1, 0,0,0,0,0, 0,0,0,0,0, 0,0,0,0,0, 0,0.5,1,0.4,0, 0,0,0,0.6,0, 0,0,0,0,0, 0,0,0,0,0]
const rainP05 = [0,0,0,0,0, 0,0,0,0,0, 0,0,0,0,0, 0,0,0,0.6,0, 0,0,0,0,0, 0,0,0,0,0, 0,0,0,0,0, 0,0,0,0,0, 0,0,0,0,0, 0,0,0,0,0, 0,0,0,0,0, 0,0.4,0,0,0, 0,0,0,0,0]
const rainP06 = [0,0,0,0,0, 0,0,0,0,0, 0,0,0,0,0, 0,0,0,0,0, 0,0,0,0,0, 0,0,0,0,0, 0,0,0,0,0, 0,0,2.7,0.4,0, 0,0,0,0,0, 0,0,0,0,0, 0,0,0.3,1.5,0, 0,0,0,0,0, 0,0,0,0,0]
const rainP07 = [0,0,0,0,0, 0,0,0,0,0, 0,0,0,0,0, 0,0,0,0,0, 0,0,0,0,0, 0,0,0,0,0, 0,0,0,0.4,0, 0,0,0,0,0, 0,0,0,0,0, 0,0,0,0,0, 0,0,0,0,0, 0,0.4,0.6,1.9,4.9, 0.5,0,0,0,0]
const rainP08 = [0,0,0,0,0, 0,0,0,0,0, 0,0,0,0,0, 0,0,0,0,0, 0,0,0,0,0, 2.3,0.5,0,0,0, 0,0,0,0,0, 0,0,0,0,0, 0,0,0,6.3,3.3, 1.9,1.5,7.7,3.3,0.3, 0,0,0,0,0, 0,0,0,0,0, 0,0,0,0,0]
const rainP09 = [0,0,0,0,0, 0,0,0,0,0, 0,0,0,0,0, 0,0,0,0,0, 0,0,0,0,0, 0,0,0,0,0, 0,0,0,0,0, 0,0,0,0,0, 0,0,0,0,0, 0,0,0,0,0, 0,0.8,0.4,0,0, 0,0,0,0,0, 0,0,0,0,0]
const rainP10 = [0,0,0,0,0, 0,0,0,0,0, 0,0,0,0,0, 0,0,0,0,0, 0,0,0,0,0, 0,0,0,0,0, 0,0,0,0.3,0.2, 0,0,0,0,1.5, 0,0,0,1.4,1, 0,0,0,0,0, 0,0,0,0,0, 0,0,0,0,0, 0,0,0,0,0]
const rainP11 = [0,0,0,0,0, 0,0,0,0,0, 0,0,0,0,0, 0,0,0,1.8,0.2, 0,1.1,0,0,0, 0,0,0,0,0, 0,0,0,0,0, 0,0,0,0,0, 0,0,0,0,0, 0,0,0,0,0, 0,0,0,0,0.5, 3,1.9,0.7,0,0.5, 2.4,3.5,1,0.3,0]
const rainP12 = [0,0,0,0,0, 0,0,0,0,0, 0,0,0,0,0, 0,0,0,0,0, 0,0,0,0,0, 0,0,0,0,0, 0,0,0,0,0, 0,0,0,0,0, 0,1.2,1.2,0.2,0, 0,0,0,0,0, 1.4,7.9,1.9,0.5,0, 0,0,0,0,0, 0,0,0,0,0]
const rainP13 = [0,0,0,0,0, 0,0,0,0,0, 0,0,0,0,0, 0,0,0,0,0, 0,0,0,0,0, 0,0,0,0,0, 0,0,0,0,0, 0,0,0,0,0, 0,0,0,0,0, 0,0,0,0,0, 0,0,0,0,0, 0,0,0,0,1.8, 3.7,2.3,0.2,0,0]
const rainP14 = [0,0,0,0,0, 0,0,0,0,0, 0,0,0,0,0, 0,0,0,0,0, 0,0,0,0,0, 0,0,0,0,0.2, 0,0,0,0,0, 0,0,0,0,0, 0,0,0,0,0, 0,0,0,0,0, 0,0.6,0.2,0,0, 0,0,0,0,0, 0,0,0,0,0]
const rainP15 = [0,0,0,0,0, 0,0,0,0,0, 0,0,0,0,0, 0,0,0,0,0, 0,0,0,0,0, 0,0,0,0,0, 0,0.5,3.4,5.6,0.5, 0,0,0,0,0, 0,0,0,0,0, 0,0,0,0,0, 0,1,0.4,0,0, 0,0,0,0,0, 0,0,0,0,0]
const rainP16 = [0,0,0,0,0, 0,0,0,0,0, 0,0,0,0,0, 0,0,0,0,0, 0,0,0,0,0, 0,0,0,0,0, 0,0,0,0,0.3, 1.9,6.1,2.7,0.3,0, 0,0,0,0,0, 0,0,0,0,0, 0,0,0,0,0, 0,0,0,0,0, 0,0,0,0,0]
const rainP17 = [0,0,0,0,0, 0,0.2,0,0,0, 0,0,0,0,0, 0,0,0,0,0, 0,0,0,0,0, 0,0,0,0,0, 0,0,0,0,0, 0,0,0,0,0, 0,0,0,4.1,6.8, 1.9,0.4,1.7,6.3,0.3, 0,0,0,0,0, 0,0,0,0,0, 0,0,0,0,0]
const rainP18 = [0,0,0,0,0, 0,0,0,0,0, 0,0,0,0,0, 0,0,0,0,0, 0,0,0,0,0, 0,2.3,0.2,0,0, 0,0,0,0,0, 0,0,0,0,0, 0,0,0,0,0, 0,0.5,1.2,2.7,0.2, 0,0,0,0,0.8, 0.3,0,0,0,0, 0,0,0,0,0]
const rainP19 = [0,0,0,0,0, 0,0,0,0,0, 0,0,0,0,0, 0,0,0,0,0, 0,0,0,0,0, 0,0,0,3.7,0.8, 0,0,0,0,0, 0,0,0,0,0, 0,0,0,0,0, 0,0,0,0,0, 0,0,0,0,0, 0.6,0.3,0,0,1.2, 0.4,0,0,0,0]
const rainP20 = [0,0,0,0,0, 0,0,0,0,0, 0,0,0,0,0, 0,0,0,0.4,0, 0,0,0,0,0, 0,0,0,0,0, 0,0,0,0,0, 0,0,0,0,0, 0,0,0,0,0, 0,0,0,0,0, 0,0,0,0,0, 0,0.8,0,0,0, 0,0,0,0,0]
const rainP21 = [0,0,0,0,0, 0,0,0,0,0, 0,0,0,0,0, 0,0,0,0,0, 0,0,0,0,0, 0,0,0,0,0, 0,0,0,0,0.7, 0,1.2,0,0,0, 0,0,0,0,0, 0,0,0,0,0, 0,0,0,0,0, 0,0,0.5,0,0, 0,0,0,0,0]
const rainP22 = [0,0,0,0,0, 0,0,0,0,0, 0,0,0,0,0, 0,0,0,0,0, 0,0,0,0,0, 0,0,0,0,0, 0,0,0,0,0, 0,0,0,0,0, 0.2,0,0,0,0, 0,0,0,0,0, 0,0.8,0,0,0, 0,0,0,0,0, 0,0,0,0,0]
const rainP23 = [0,0,0,0,0, 0,0,0,0,0, 0,0,0,0,0, 0,0,0,0,0, 0,0,0,0,0, 0,0,0,0,0, 0,0,0,0,0, 0,0,0,0,0, 0,0,0,0,0, 0,0,0,0,0, 0,0,0,0,0, 0,0,0,0.7,0.3, 2,0.4,0,0,0]
const rainP24 = [0,0,0,0,0, 0,0,0,0,0, 0,0,0,0,0, 0,0,0,0,0, 0,0,0,0,0, 0,0,0,0,0, 0,0,0,0,0, 0,0,0,0,0, 0,0,0,0,0, 1.7,3,1.2,0.2,0, 0,0,0,0,0.8, 0.3,0,0,0,0, 0,0,0,0,0]
const rainP25 = [0,0,0,0,0, 0,0,0,0,0, 0,0,0,0,0, 0,0,0,0,0, 0,0,0,0,0, 0,0,0,0,0.3, 0,0,0,0,0, 0,0,0,0,0, 0,0,0,0,0, 0,0,0,0,0, 0,0,0,0,0, 0,0,0,0,0, 0,0,0,0,0]
const rainP26 = [0,0.2,0,0,0, 0.2,0,0,0,0, 0,0,0,0,0, 0,0,0,0,0, 0.4,0,0,0,0, 0,0,0,0,0, 0,0,0,0,0, 0,0,0,0,0, 0,0,0,0,0, 0,0,0,0,0, 0,0,0,0,0, 0,0,0,0,0, 0,0,0,0,0]
const rainP27 = [0,0,0,0,0, 0,0,0,0,0, 0,0,0,0,0, 0,0,0,0,0, 0,0,0,0,0, 0.3,1.1,0.4,0,0, 0,0,0,0,0, 0,0.4,0,0,0, 0,0,0,0,0, 0,0.8,1.3,0.3,0, 0,0,0,0,0, 0,0,0,0,0, 0,0,0,0,0]
const rainP28 = [0,0,0,0,0, 0,0,0,0,0, 0,0,0,0,0, 0,0,0,0,0, 0,0,0,0,0, 0,0,0,0,0, 0,0,0,0,0, 0,0,0,0,0, 0,0,0,0,0, 0,0,0,0,0, 0,0,3.7,2,0.4, 0,0,0,0,0, 0,0,1,0.9,0.2]
const rainP29 = [0,0,0,0,0, 0,0,0,0,0, 0,0,0,0,0, 0,0,0,0.8,0, 0,0,0,0,0, 0,0,0,0,0, 0,0,0,0,0, 0,0,0,0,0, 0,0,0,0,0, 0,0,0,0,0, 0,0,0,0,0, 0,0,0,0,0, 0,0,0,0,0]
const rainP30 = [0,0,0,0,0, 0,0,0,0,0, 0,0,0,0,0, 0,0,0,0,0, 0,3.6,0.3,0,0, 0.2,0.4,0,0,0, 0,0,0,0,0, 0,0,0,0,0, 0,0,0,0,0, 0,0,0,0,0, 0,0,0,0,0, 0,0,0,0,0, 0,0,0,0,0]

const pertsT850 = [t850P01,t850P02,t850P03,t850P04,t850P05,t850P06,t850P07,t850P08,t850P09,t850P10,t850P11,t850P12,t850P13,t850P14,t850P15,t850P16,t850P17,t850P18,t850P19,t850P20,t850P21,t850P22,t850P23,t850P24,t850P25,t850P26,t850P27,t850P28,t850P29,t850P30]
const pertsT500 = [t500P01,t500P02,t500P03,t500P04,t500P05,t500P06,t500P07,t500P08,t500P09,t500P10,t500P11,t500P12,t500P13,t500P14,t500P15,t500P16,t500P17,t500P18,t500P19,t500P20,t500P21,t500P22,t500P23,t500P24,t500P25,t500P26,t500P27,t500P28,t500P29,t500P30]
const pertsRain = [rainP01,rainP02,rainP03,rainP04,rainP05,rainP06,rainP07,rainP08,rainP09,rainP10,rainP11,rainP12,rainP13,rainP14,rainP15,rainP16,rainP17,rainP18,rainP19,rainP20,rainP21,rainP22,rainP23,rainP24,rainP25,rainP26,rainP27,rainP28,rainP29,rainP30]

const FONT = '"DejaVu Sans Mono"'
const TOP = 33, BOTTOM = -52.71

const labels = meanT850.map((v, i) => (i % 4 === 1 ? days[(i - 1) / 4] : ''))

// text and legend around the plot
const chrome = {
  id: 'chrome',
  afterDraw(chart) {
    const c = chart.ctx
    c.save()
    c.textBaseline = 'middle'
    c.fillStyle = '#000'
    const text = (s, x, y, font) => { c.font = font || '10px ' + FONT; c.fillText(s, x, y) }
    text('Temp. 850hPa', 60, 100)
    text('Temp. 500hPa', 60, 311)
    text('Précipitations', 59, 534)
    text('(°C)', 20, 606)
    text('(mm)', 711, 606)
    text('Alt. 1215m', 10, 623)
    c.fillStyle = '#f00'; c.fillRect(35, 635, 31, 4)
    c.fillStyle = '#00f'; c.fillRect(225, 635, 31, 4)
    c.fillStyle = '#000'; c.fillRect(225, 645, 31, 4)
    text('Moyenne des scénarios', 75, 637)
    text('Run de contrôle', 264, 637)
    text('Run GFS', 264, 647)
    text('Risque neige', 75, 659)
    text('30 Perts.', 340, 652)
    c.fillStyle = '#4ea8e8'
    text('❄', 54, 658, '15px "DejaVu Sans"')
    perts.forEach((p, i) => {
      c.fillStyle = pertColors[i]
      c.fillRect(400 + i * 11, 650, 10, 6)
      c.fillStyle = '#000'
      text(p, 400.5 + i * 11, 644, 'bold 8px ' + FONT)
    })
    c.strokeStyle = '#000'
    c.lineWidth = 1
    c.strokeRect(20.5, 667.5, 420, 31)
    text('Diagramme des ensembles GEFS sur 384h : 35.5N 6.5E', 30, 677, 'bold 11.6px ' + FONT)
    text('Températures 850hPa et 500hPa (°C) , précipitations (mm)', 30, 692)
    text('Ensemble GEFS du 08/05/2024 - 18Z', 450, 675)
    text('Copyright 2024 Meteociel.fr', 450, 692, 'bold 11.6px ' + FONT)
    c.restore()
  }
}

const pertLine = (data, color, order, axis) => ({
  data, borderColor: color, borderWidth: 1.2, order, yAxisID: axis, tension: 0,
  pointStyle: 'cross', pointRadius: 2, pointBorderWidth: 1, pointBorderColor: color
})
const thickLine = (data, color, width, order, axis) => ({
  data, borderColor: color, borderWidth: width, order, yAxisID: axis, tension: 0, pointRadius: 0, borderJoinStyle: 'round'
})

// control and GFS sit under the members, the mean on top of everything
const datasets = []
perts.forEach((p, i) => {
  datasets.push(pertLine(pertsRain[i], pertColors[i], 50 - i, 'y2'))
  datasets.push(pertLine(pertsT500[i], pertColors[i], 50 - i, 'y'))
  datasets.push(pertLine(pertsT850[i], pertColors[i], 50 - i, 'y'))
})
datasets.push(thickLine(gfsT850, '#000', 3, 61, 'y'), thickLine(controlT850, '#00f', 3, 60, 'y'), thickLine(meanT850, '#f00', 4, 1, 'y'))
datasets.push(thickLine(gfsT500, '#000', 3, 61, 'y'), thickLine(controlT500, '#00f', 3, 60, 'y'), thickLine(meanT500, '#f00', 4, 1, 'y'))
datasets.push(thickLine(gfsRain, '#000', 3, 61, 'y2'), thickLine(controlRain, '#00f', 3, 60, 'y2'), thickLine(meanRain, '#f00', 4, 1, 'y2'))

new Chart(document.getElementById('myChart'), {
  type: 'line',
  data: { labels, datasets },
  plugins: [chrome],
  options: {
    responsive: false,
    animation: false,
    layout: { autoPadding: false, padding: { left: 20 } },
    plugins: { legend: { display: false }, tooltip: { enabled: false }, title: { display: false } },
    scales: {
      x: {
        position: 'bottom',
        afterFit: s => { s.height = 100; s.paddingLeft = 0; s.paddingRight = 0 },
        border: { color: '#000', width: 1 },
        grid: { color: c => (c.tick && c.tick.label ? '#bbb' : 'transparent'), lineWidth: 1, drawTicks: false },
        ticks: { autoSkip: false, maxRotation: 90, minRotation: 90, color: '#000', font: { family: FONT, size: 10 }, padding: 3, labelOffset: 7 }
      },
      y: {
        position: 'left', min: BOTTOM, max: TOP,
        afterFit: s => { s.width = 30; s.paddingTop = 0; s.paddingBottom = 0 },
        afterBuildTicks: s => { s.ticks = leftTicks.map(value => ({ value })) },
        border: { color: '#000', width: 1 },
        grid: { color: c => (c.tick.value === 0 ? '#888' : '#bbb'), lineWidth: c => (c.tick.value % 10 === 0 ? 2 : 1), drawTicks: false },
        ticks: { color: '#000', font: { family: FONT, size: 10 }, crossAlign: 'far', labelOffset: 2, autoSkip: false }
      },
      y2: {
        position: 'right', min: BOTTOM + 45, max: TOP + 45,
        afterFit: s => { s.width = 50; s.paddingTop = 0; s.paddingBottom = 0 },
        afterBuildTicks: s => { s.ticks = rightTicks.map(value => ({ value })) },
        border: { color: '#000', width: 1 },
        grid: { drawOnChartArea: false, drawTicks: false },
        ticks: { color: '#000', font: { family: FONT, size: 10 }, padding: 19, labelOffset: 2, autoSkip: false }
      }
    }
  }
})
</script>
</body>
</html>
